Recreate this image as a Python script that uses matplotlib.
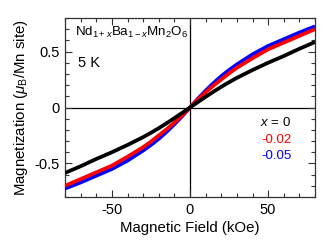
import matplotlib
matplotlib.use("Agg")
import matplotlib.pyplot as plt
from matplotlib.ticker import MultipleLocator

plt.rcParams['font.family'] = ['Liberation Sans', 'DejaVu Sans']
plt.rcParams['mathtext.fontset'] = 'custom'
plt.rcParams['mathtext.rm'] = 'Liberation Sans'
plt.rcParams['mathtext.it'] = 'Liberation Sans:italic'

field_pos = [0, 5, 10, 15, 20, 25, 30, 40, 50, 60, 70, 80]
m_x0_pos = [0.0, 0.048, 0.095, 0.141, 0.185, 0.226, 0.265, 0.335, 0.40, 0.46, 0.525, 0.585]
m_x002_pos = [0.0, 0.07, 0.135, 0.195, 0.25, 0.305, 0.355, 0.44, 0.52, 0.58, 0.64, 0.70]
m_x005_pos = [0.0, 0.078, 0.15, 0.218, 0.28, 0.335, 0.385, 0.475, 0.55, 0.61, 0.67, 0.725]

field = [-h for h in field_pos[:0:-1]] + field_pos
def sym(v):
    return [-m for m in v[:0:-1]] + v

series = [
    ("x = 0", sym(m_x0_pos), "black"),
    ("-0.02", sym(m_x002_pos), "red"),
    ("-0.05", sym(m_x005_pos), "blue"),
]

fig = plt.figure(figsize=(3.32, 2.43), dpi=100)
ax = fig.add_axes([65/332, 1-197/243, 250/332, 179/243])

ax.axhline(0, color='black', lw=0.9, zorder=1)
ax.axvline(0, color='black', lw=0.9, zorder=1)

for label, vals, col in [series[2], series[1], series[0]]:
    ax.plot(field, vals, color=col, lw=2.7, solid_capstyle='butt', zorder=3)

ax.set_xlim(-80, 80)
ax.set_ylim(-0.8, 0.8)
ax.xaxis.set_minor_locator(MultipleLocator(10))
ax.yaxis.set_minor_locator(MultipleLocator(0.1))
ax.set_yticks([-0.5, 0, 0.5])
ax.set_yticklabels(['-0.5', '0', '0.5'])
ax.set_xticks([-50, 0, 50])
ax.set_xticklabels(['-50', '0', '50'])
ax.tick_params(which='both', direction='in', top=True, right=True, labelsize=10.5, width=0.8, color='#333333')
ax.tick_params(which='major', length=5, pad=4)
ax.tick_params(which='minor', length=3)
for s in ax.spines.values():
    s.set_linewidth(0.9)
    s.set_color('#333333')

ax.set_xlabel('Magnetic Field (kOe)', fontsize=10.8, labelpad=3)
ax.set_ylabel(r'Magnetization ($\mu_{\mathrm{B}}$/Mn site)', fontsize=10.8, labelpad=3)

ax.text(0.04, 0.92, r'Nd$_{1+x}$Ba$_{1-x}$Mn$_2$O$_6$', transform=ax.transAxes,
        fontsize=9.6, va='center', ha='left')
ax.text(0.05, 0.75, '5 K', transform=ax.transAxes, fontsize=10.5, va='center', ha='left')

ax.text(0.905, 0.415, r'$x$ = 0', transform=ax.transAxes, fontsize=9.5, ha='right', va='center', color='black')
ax.text(0.905, 0.32, '-0.02', transform=ax.transAxes, fontsize=9.5, ha='right', va='center', color='red')
ax.text(0.905, 0.23, '-0.05', transform=ax.transAxes, fontsize=9.5, ha='right', va='center', color='blue')

fig.savefig('out.png', dpi=100)
